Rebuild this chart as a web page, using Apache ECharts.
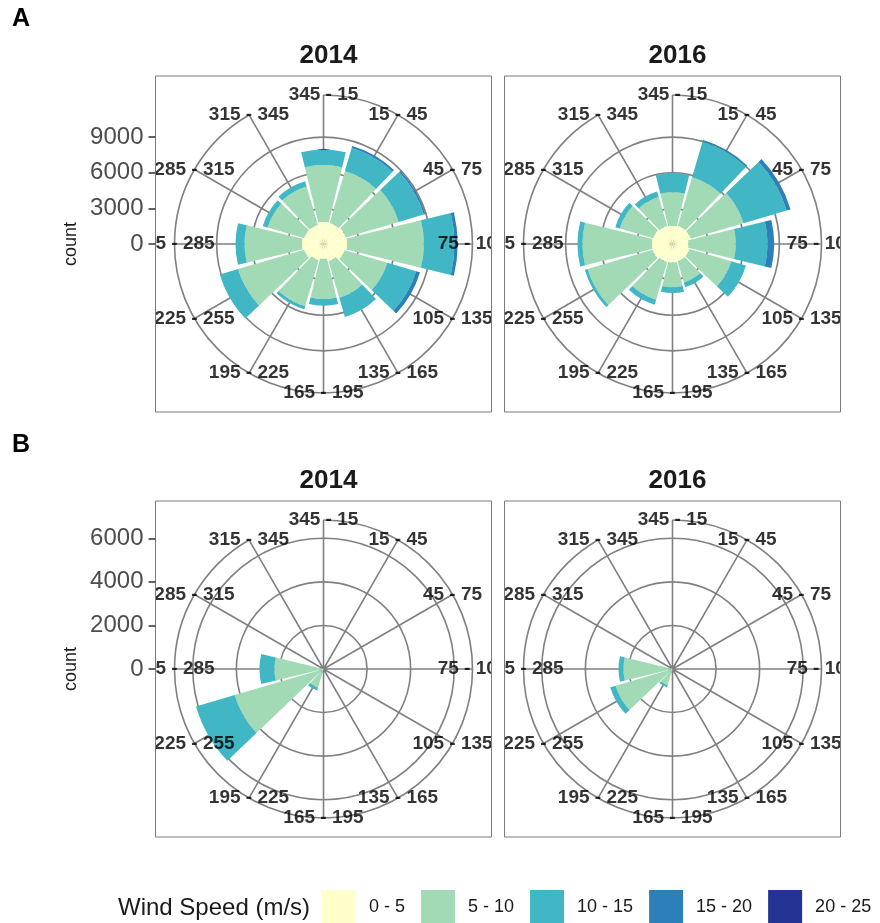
<!DOCTYPE html>
<html>
<head>
<meta charset="utf-8">
<script src="https://cdn.jsdelivr.net/npm/echarts@6/dist/echarts.min.js"></script>
<style>
  html, body { margin: 0; padding: 0; background: #fff; }
  #wrap { position: relative; width: 880px; height: 923px; overflow: hidden; }
  #chart { position: absolute; left: 0; top: 0; width: 880px; height: 923px; }
  .panel { position: absolute; }
</style>
</head>
<body>
<div id="wrap"><div id="chart"></div></div>
<script>
// wind direction bins, clockwise from north
var directions = ['345 - 15', '15 - 45', '45 - 75', '75 - 105', '105 - 135', '135 - 165',
                  '165 - 195', '195 - 225', '225 - 255', '255 - 285', '285 - 315', '315 - 345'];
var speedBins = ['0 - 5', '5 - 10', '10 - 15', '15 - 20', '20 - 25'];
var years = ['2014', '2016'];
var rowLetters = ['A', 'B'];

// radial tick labels
var ticksA = [0, 3000, 6000, 9000];
var ticksB = [0, 2000, 4000, 6000];

// counts, panel A 2014
var A2014_0to5   = [1880, 1850, 1950, 2000, 1850, 1500, 1260, 1430, 1700, 1830, 1700, 1700];
var A2014_5to10  = [4770, 4550, 4650, 6450, 3750, 3220, 3370, 4045, 5800, 4820, 3200, 3350];
var A2014_10to15 = [1300, 2020, 2200, 2580, 2530, 1680, 570, 255, 1600, 760, 430, 450];
var A2014_15to20 = [0, 180, 150, 270, 340, 0, 0, 0, 0, 0, 0, 0];
var A2014_20to25 = [0, 0, 0, 0, 0, 0, 0, 0, 0, 0, 0, 0];

// counts, panel A 2016
var A2016_0to5   = [1540, 1600, 1600, 1350, 1500, 1500, 1550, 1600, 1750, 1740, 1700, 1600];
var A2016_5to10  = [2810, 4250, 4630, 3980, 3660, 1870, 2100, 3290, 5700, 5840, 2930, 2530];
var A2016_10to15 = [1630, 3150, 3790, 2670, 1290, 420, 480, 440, 250, 420, 390, 470];
var A2016_15to20 = [0, 120, 340, 565, 0, 0, 0, 0, 0, 0, 0, 0];
var A2016_20to25 = [0, 0, 0, 0, 0, 0, 0, 0, 0, 0, 0, 0];

// counts, panel B 2014
var B2014_0to5   = [0, 0, 0, 0, 0, 0, 0, 60, 120, 100, 0, 0];
var B2014_5to10  = [0, 0, 0, 0, 0, 0, 0, 830, 4130, 2150, 0, 0];
var B2014_10to15 = [0, 0, 0, 0, 0, 0, 0, 140, 1850, 690, 0, 0];
var B2014_15to20 = [0, 0, 0, 0, 0, 0, 0, 0, 0, 0, 0, 0];
var B2014_20to25 = [0, 0, 0, 0, 0, 0, 0, 0, 0, 0, 0, 0];

// counts, panel B 2016
var B2016_0to5   = [0, 0, 0, 0, 0, 0, 0, 60, 80, 80, 0, 0];
var B2016_5to10  = [0, 0, 0, 0, 0, 0, 0, 720, 2640, 2170, 0, 0];
var B2016_10to15 = [0, 0, 0, 0, 0, 0, 0, 100, 260, 230, 0, 0];
var B2016_15to20 = [0, 0, 0, 0, 0, 0, 0, 0, 0, 0, 0, 0];
var B2016_20to25 = [0, 0, 0, 0, 0, 0, 0, 0, 0, 0, 0, 0];

var speedColors = ['#ffffcc', '#a1dab4', '#41b6c4', '#2c7fb8', '#253494'];
var gridColor = '#808080';
var font = 'Liberation Sans, Arial, sans-serif';
var R = 149;          // outer circle radius (px)
var boxSize = 336;

// layout of the four panels
var panels = [
  { row: 0, col: 0, x: 155.5, y: 76,  rMax: 12550, ticks: ticksA,
    data: [A2014_0to5, A2014_5to10, A2014_10to15, A2014_15to20, A2014_20to25] },
  { row: 0, col: 1, x: 504.5, y: 76,  rMax: 12550, ticks: ticksA,
    data: [A2016_0to5, A2016_5to10, A2016_10to15, A2016_15to20, A2016_20to25] },
  { row: 1, col: 0, x: 155.5, y: 501, rMax: 6840, ticks: ticksB,
    data: [B2014_0to5, B2014_5to10, B2014_10to15, B2014_15to20, B2014_20to25] },
  { row: 1, col: 1, x: 504.5, y: 501, rMax: 6840, ticks: ticksB,
    data: [B2016_0to5, B2016_5to10, B2016_10to15, B2016_15to20, B2016_20to25] }
];

var option = {
  animation: false,
  textStyle: { fontFamily: font },
  title: [],
  grid: [], xAxis: [], yAxis: [],
  polar: [], angleAxis: [], radiusAxis: [],
  series: [],
  legend: {
    left: 322, top: 890, padding: 0,
    itemWidth: 34, itemHeight: 34, itemGap: 16,
    icon: 'rect', selectedMode: false,
    data: speedBins,
    textStyle: { fontSize: 18, color: '#1a1a1a', padding: [0, 0, 0, 8] }
  }
};

// row letters
rowLetters.forEach(function (l, r) {
  option.title.push({ text: l, left: 12, top: r === 0 ? 7 : 433, padding: 0,
    textStyle: { fontSize: 25, fontWeight: 'bold', color: '#000' } });
});

// legend title
option.title.push({ text: 'Wind Speed (m/s)', left: 118, top: 896, padding: 0,
  textStyle: { fontSize: 24, fontWeight: 'normal', color: '#1a1a1a' } });

panels.forEach(function (p, i) {
  var cx = p.x + boxSize / 2, cy = p.y + boxSize / 2;
  var scale = R / p.rMax;
  var tMax = p.ticks[p.ticks.length - 1];
  var step = p.ticks[1] - p.ticks[0];

  // year title
  option.title.push({ text: years[p.col], left: cx, top: p.y - 38, textAlign: 'center',
    textStyle: { fontSize: 26, fontWeight: 'bold', color: '#1a1a1a' } });

  // panel box (with "count" axis name on left panels)
  var gBox = option.grid.length;
  option.grid.push({ left: p.x, top: p.y, width: boxSize, height: boxSize, show: true,
    borderColor: '#7a7a7a', borderWidth: 1, backgroundColor: 'rgba(0,0,0,0)', z: 10 });
  option.xAxis.push({ gridIndex: gBox, type: 'value', show: false, min: 0, max: 1 });
  option.yAxis.push({ gridIndex: gBox, type: 'value', show: p.col === 0, min: 0, max: 1,
    axisLine: { show: false }, axisTick: { show: false }, axisLabel: { show: false }, splitLine: { show: false },
    name: 'count', nameLocation: 'middle', nameGap: 75, nameRotate: 90,
    nameTextStyle: { fontSize: 18, color: '#1a1a1a' }, z: 12 });

  // radial count axis drawn on the left of the left panels
  if (p.col === 0) {
    var gAx = option.grid.length;
    option.grid.push({ left: p.x, top: cy - tMax * scale, width: 1, height: tMax * scale, show: false });
    option.xAxis.push({ gridIndex: gAx, type: 'value', show: false, min: 0, max: 1 });
    option.yAxis.push({ gridIndex: gAx, type: 'value', min: p.ticks[0], max: tMax, interval: step,
      axisLine: { show: false },
      axisTick: { show: true, length: 7, lineStyle: { color: '#333', width: 1.5 } },
      axisLabel: { fontSize: 24, color: '#4d4d4d', margin: 12,
        formatter: function (v) { return String(v); } },
      splitLine: { show: false }, z: 12 });
  }

  // ring polar for the count grid circles
  var pRing = option.polar.length;
  option.polar.push({ center: [cx, cy], radius: tMax * scale });
  option.angleAxis.push({ polarIndex: pRing, type: 'value', min: 0, max: 360, show: false });
  option.radiusAxis.push({ polarIndex: pRing, type: 'value', min: p.ticks[0], max: tMax, interval: step,
    axisLine: { show: false }, axisTick: { show: false }, axisLabel: { show: false },
    splitLine: { show: true, lineStyle: { color: gridColor, width: 1.6 } } });

  // main polar: spokes, outer circle, bars
  var pMain = option.polar.length;
  option.polar.push({ center: [cx, cy], radius: R });
  option.angleAxis.push({ polarIndex: pMain, type: 'category', data: directions, boundaryGap: false,
    startAngle: 90, clockwise: true,
    axisLine: { show: true, lineStyle: { color: gridColor, width: 1.6 } },
    axisTick: { show: false }, axisLabel: { show: false },
    splitLine: { show: true, lineStyle: { color: gridColor, width: 1.6 } } });
  option.radiusAxis.push({ polarIndex: pMain, type: 'value', min: 0, max: p.rMax,
    axisLine: { show: false }, axisTick: { show: false }, axisLabel: { show: false }, splitLine: { show: false } });

  speedBins.forEach(function (name, s) {
    option.series.push({
      type: 'bar', name: name, coordinateSystem: 'polar', polarIndex: pMain,
      stack: 'panel' + i, barWidth: '91%', data: p.data[s],
      itemStyle: { color: speedColors[s] }, z: 2, silent: true
    });
  });
});

var chart = echarts.init(document.getElementById('chart'), null, { renderer: 'canvas' });
chart.setOption(option);

// direction labels: one small chart per panel, sized to the inside of the box so
// labels that run past the panel border get clipped like in the original figure
panels.forEach(function (p) {
  var cx = p.x + boxSize / 2, cy = p.y + boxSize / 2;
  var left = Math.ceil(p.x + 0.5), top = Math.ceil(p.y + 0.5);
  var size = boxSize - 1;
  var div = document.createElement('div');
  div.className = 'panel';
  div.style.left = left + 'px';
  div.style.top = top + 'px';
  div.style.width = size + 'px';
  div.style.height = size + 'px';
  document.getElementById('wrap').appendChild(div);

  var labelChart = echarts.init(div, null, { renderer: 'canvas' });
  labelChart.setOption({
    animation: false,
    textStyle: { fontFamily: font },
    polar: { center: [cx - left, cy - top], radius: R },
    angleAxis: { type: 'category', data: directions, boundaryGap: false,
      startAngle: 90, clockwise: true, show: false },
    radiusAxis: { type: 'value', min: 0, max: p.rMax, show: false },
    series: [{
      type: 'scatter', coordinateSystem: 'polar', silent: true,
      symbolSize: 1, itemStyle: { color: 'rgba(0,0,0,0)' },
      data: directions.map(function (d, j) { return [p.rMax, j]; }),
      label: { show: true, position: 'inside', color: '#000', fontSize: 19, fontWeight: 'bold',
        formatter: function (prm) { return directions[prm.data[1]]; } }
    }]
  });
});
</script>
</body>
</html>
